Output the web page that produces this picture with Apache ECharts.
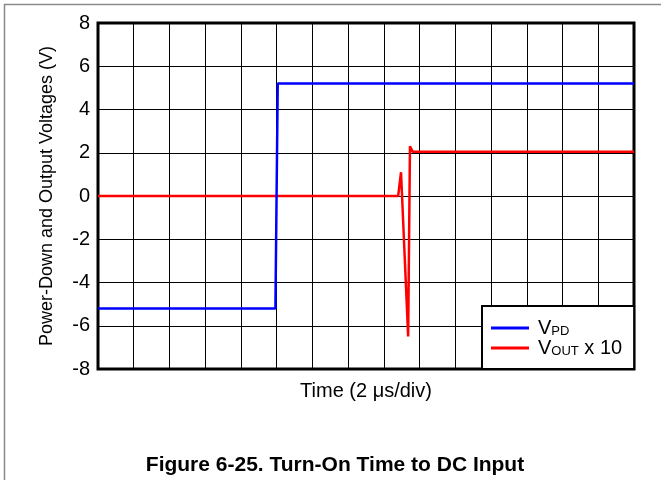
<!DOCTYPE html>
<html lang="en">
<head>
    <meta charset="UTF-8">
    <title>Turn-On Time to DC Input</title>
    <script src="https://cdn.jsdelivr.net/npm/echarts@6/dist/echarts.min.js"></script>
    <style>
        html, body { margin: 0; padding: 0; background: #fff; }
        #main { width: 661px; height: 480px; }
    </style>
</head>
<body>
<div id="main"></div>
<script>
    // time axis in microseconds (2 us/div, 15 divisions)
    var vpdTime = [0, 9.93, 10.06, 30];
    var vpdVolts = [-5.2, -5.2, 5.2, 5.2];

    // output voltage x 10
    var voutTime = [0, 16.8, 16.96, 17.36, 17.46, 17.61, 30];
    var voutVolts = [0, 0, 1.1, -6.5, 2.3, 2.05, 2.05];

    var yTicks = [-8, -6, -4, -2, 0, 2, 4, 6, 8];

    function pairs(xs, ys) {
        var out = [];
        for (var i = 0; i < xs.length; i++) {
            out.push([xs[i], ys[i]]);
        }
        return out;
    }

    var font = 'Liberation Sans, Arial, sans-serif';
    var chart = echarts.init(document.getElementById('main'));

    var option = {
        animation: false,
        grid: {
            left: 98,
            top: 23,
            right: 27,
            bottom: 111,
            show: true,
            borderColor: '#000',
            borderWidth: 3,
            backgroundColor: '#fff'
        },
        xAxis: {
            type: 'value',
            min: 0,
            max: 30,
            interval: 2,
            axisLine: { show: false },
            axisTick: { show: false },
            axisLabel: { show: false },
            splitLine: { show: true, lineStyle: { color: '#000', width: 1 } },
            name: 'Time (2 \u03bcs/div)',
            nameLocation: 'middle',
            nameGap: 12,
            nameTextStyle: { color: '#000', fontSize: 20, fontFamily: font }
        },
        yAxis: {
            type: 'value',
            min: yTicks[0],
            max: yTicks[yTicks.length - 1],
            interval: 2,
            axisLine: { show: false },
            axisTick: { show: false },
            axisLabel: { color: '#000', fontSize: 20, fontFamily: font, margin: 8 },
            splitLine: { show: true, lineStyle: { color: '#000', width: 1 } },
            name: 'Power-Down and Output Voltages (V)',
            nameLocation: 'middle',
            nameGap: 42,
            nameTextStyle: { color: '#000', fontSize: 18, fontFamily: font }
        },
        legend: {
            data: ['VPD', 'VOUT x 10'],
            orient: 'vertical',
            left: 482,
            top: 306,
            padding: [12, 12, 11, 9],
            itemGap: 0,
            itemWidth: 38,
            itemHeight: 3,
            icon: 'rect',
            selectedMode: false,
            backgroundColor: '#fff',
            borderColor: '#000',
            borderWidth: 2,
            formatter: function(name) {
                if (name === 'VPD') {
                    return '{f|V}{s|PD}';
                }
                return '{f|V}{s|OUT}{m| x 10}';
            },
            textStyle: {
                color: '#000',
                fontFamily: font,
                rich: {
                    f: { fontSize: 20, lineHeight: 20, padding: [0, 0, 0, 4], fontFamily: font, color: '#000' },
                    m: { fontSize: 20, lineHeight: 20, fontFamily: font, color: '#000' },
                    s: { fontSize: 13, lineHeight: 13, verticalAlign: 'bottom', fontFamily: font, color: '#000' }
                }
            }
        },
        series: [{
            name: 'VOUT x 10',
            type: 'line',
            data: pairs(voutTime, voutVolts),
            symbol: 'none',
            color: '#ff0000',
            lineStyle: { color: '#ff0000', width: 2.5 }
        }, {
            name: 'VPD',
            type: 'line',
            data: pairs(vpdTime, vpdVolts),
            symbol: 'none',
            color: '#0000ff',
            lineStyle: { color: '#0000ff', width: 2.5 }
        }],
        graphic: [{
            type: 'rect',
            silent: true,
            shape: { x: 4.5, y: 4.5, width: 700, height: 520 },
            style: { fill: 'none', stroke: '#8a8a8a', lineWidth: 1.5 }
        }, {
            type: 'text',
            silent: true,
            x: 335,
            y: 465,
            style: {
                text: 'Figure 6-25. Turn-On Time to DC Input',
                font: 'bold 21px ' + font,
                fill: '#000',
                align: 'center',
                verticalAlign: 'middle'
            }
        }]
    };

    chart.setOption(option);
</script>
</body>
</html>
